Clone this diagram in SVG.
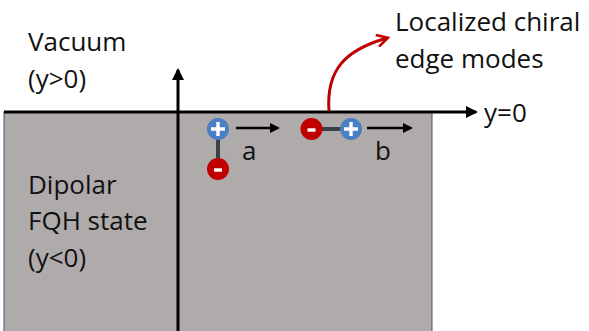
<svg xmlns="http://www.w3.org/2000/svg" width="589" height="331" viewBox="0 0 589 331">
<defs>
<style>
text{font-family:"Open Sans","Liberation Sans",sans-serif;font-size:26px;fill:#111}
.ax{stroke:#000;stroke-width:3;fill:none}
.dl{stroke:#3b3f4a;stroke-width:4}
.pos{fill:#4a7fc4;stroke:none}
.neg{fill:#c00000;stroke:none}
.sign{stroke:#fff;stroke-width:3.4;stroke-linecap:butt}
.mv{stroke:#000;stroke-width:2.5}
</style>
<marker id="ah" markerWidth="10" markerHeight="10" refX="8" refY="5" orient="auto" markerUnits="userSpaceOnUse"><path d="M0,0 L10,5 L0,10 Z" fill="#000"/></marker>
<marker id="ahs" markerWidth="12" markerHeight="12" refX="10" refY="6" orient="auto" markerUnits="userSpaceOnUse"><path d="M0,0 L12,6 L0,12 Z" fill="#000"/></marker>
<marker id="ahr" markerWidth="14" markerHeight="14" refX="11" refY="7" orient="auto" markerUnits="userSpaceOnUse"><path d="M1,1 L12,7 L1,13" fill="none" stroke="#c00000" stroke-width="2.5"/></marker>
</defs>
<g id="region">
<rect x="4" y="112" width="428" height="222" fill="#afabab" stroke="#44546a" stroke-width="1"/>
</g>
<g id="connectors">
<line class="ax" x1="178" y1="331" x2="178" y2="70" marker-end="url(#ahs)"/>
<line class="ax" x1="4" y1="112" x2="476" y2="112" marker-end="url(#ahs)"/>
<path d="M329,111 C326,70 345,50 387,38" fill="none" stroke="#c00000" stroke-width="3" marker-end="url(#ahr)"/>
<line class="mv" x1="236" y1="128" x2="278" y2="128" marker-end="url(#ah)"/>
<line class="mv" x1="367" y1="128" x2="411" y2="128" marker-end="url(#ah)"/>
</g>
<g id="dipole-a">
<line class="dl" x1="218" y1="130" x2="218" y2="168"/>
<circle class="pos" cx="218" cy="129" r="11"/>
<path class="sign" d="M211,129 H225 M218,122 V136"/>
<circle class="neg" cx="218" cy="169" r="11"/>
<path class="sign" d="M214,170 H222"/>
<text x="242" y="160">a</text>
</g>
<g id="dipole-b">
<line class="dl" x1="312" y1="129" x2="351" y2="129"/>
<circle class="neg" cx="311.5" cy="129" r="11"/>
<path class="sign" d="M307.5,130 H315.5"/>
<circle class="pos" cx="351" cy="129" r="11"/>
<path class="sign" d="M344,129 H358 M351,122 V136"/>
<text x="375" y="160">b</text>
</g>
<g id="labels">
<text x="28" y="51">Vacuum</text>
<text x="28" y="88">(y&gt;0)</text>
<text x="28" y="194">Dipolar</text>
<text x="28" y="230">FQH state</text>
<text x="28" y="267">(y&lt;0)</text>
<text x="484" y="122">y=0</text>
<text x="395" y="31">Localized chiral</text>
<text x="395" y="68">edge modes</text>
</g>
</svg>
